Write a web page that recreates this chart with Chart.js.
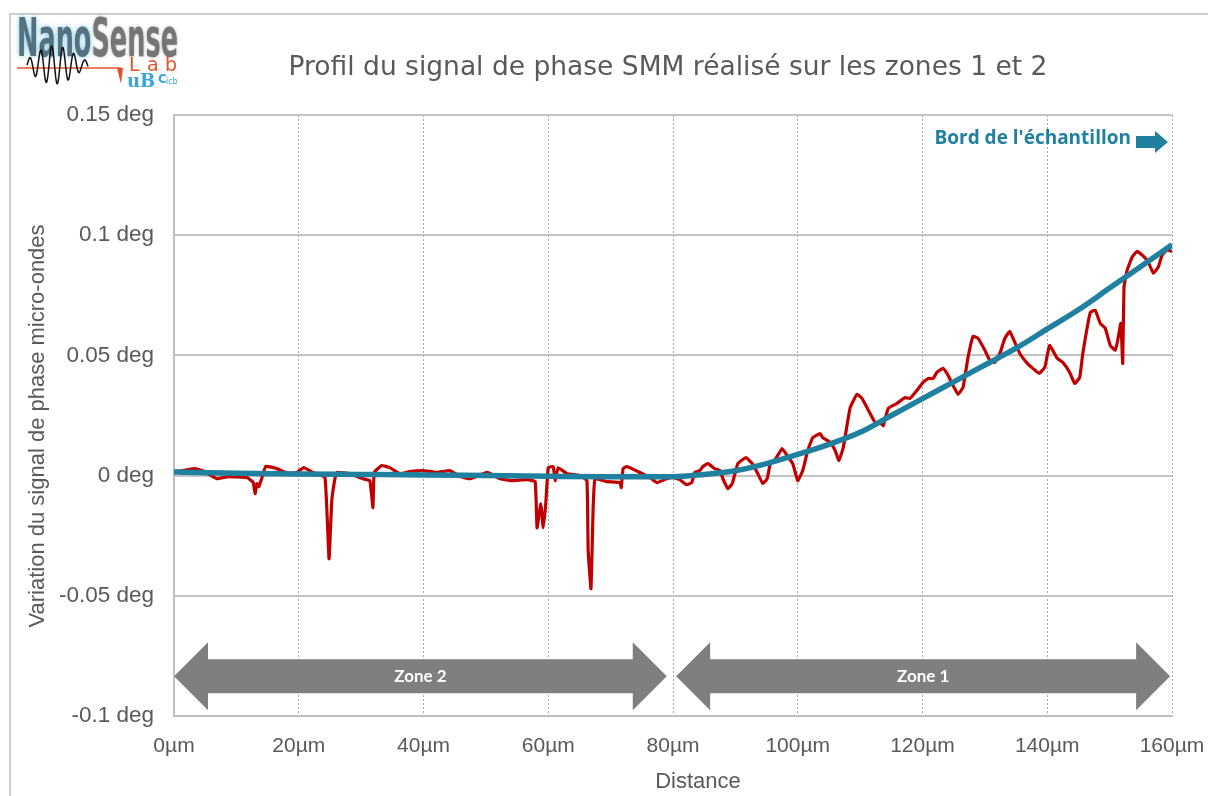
<!DOCTYPE html>
<html lang="fr">
<head>
<meta charset="utf-8">
<title>Profil du signal de phase SMM</title>
<script src="https://cdn.jsdelivr.net/npm/chart.js@4.4.1/dist/chart.umd.min.js"></script>
<style>
  html, body { margin: 0; padding: 0; background: #fff; overflow: hidden; }
  #frame { position: absolute; left: 9px; top: 13px; width: 1400px; height: 1000px; border: 2px solid #cdcdcd; }
  #wrap { position: absolute; left: 0; top: 0; width: 1208px; height: 796px; }
</style>
</head>
<body>
<div id="frame"></div>
<div id="wrap"><canvas id="profil"></canvas></div>
<script>
const chartTitle = 'Profil du signal de phase SMM réalisé sur les zones 1 et 2';
const edgeLabel = "Bord de l'échantillon";
const xTitle = 'Distance';
const yTitle = 'Variation du signal de phase micro-ondes';

// SMM phase profile (distance in µm, phase in deg)
const distance = [
  0, 1.4, 3.4, 4.5, 6.9, 8.7, 11.7, 12.7, 13.0, 13.3, 13.6, 14.1, 14.7, 16.5, 17.5, 18.6, 19.7,
  20.8, 22.3, 24.2, 24.85, 25.3, 25.8, 26.1, 28.2, 30.3, 31.4, 31.9, 32.1, 33.3, 34.6, 36.2, 37.8,
  39.9, 42.2, 44.2, 45.9, 47.5, 50.2, 52.3, 54.2, 56.6, 57.9, 58.2, 58.8, 59.2, 59.6, 60.0, 60.8,
  61.1, 61.6, 63.0, 65.1, 66.2, 66.4, 66.85, 67.2, 67.5, 69.4, 71.5, 71.7, 72.0, 72.6, 74.7, 76.3,
  77.4, 79.0, 80.0, 81.1, 82.2, 83.0, 83.5, 84.3, 84.8, 85.6, 86.7, 87.5, 88.0, 88.8, 89.5, 90.4,
  91.7, 92.7, 93.5, 94.4, 95.1, 95.6, 96.4, 97.5, 98.3, 99.2, 100.0, 100.8, 101.6, 102.4, 103.6,
  104.0, 105.2, 106.0, 106.6, 107.3, 108.4, 109.5, 110.3, 111.6, 112.4, 113.2, 113.7, 114.5, 115.9,
  117.2, 118.0, 119.1, 120.1, 120.9, 121.7, 122.3, 123.3, 124.1, 124.9, 125.7, 126.5, 127.3, 128.1,
  128.9, 130.0, 130.8, 131.6, 132.4, 133.2, 134.0, 134.8, 135.6, 136.8, 137.7, 138.7, 139.6, 140.0,
  140.4, 141.6, 142.5, 143.6, 144.4, 145.2, 145.7, 146.9, 147.7, 148.5, 149.3, 150.1, 150.9, 151.3,
  151.8, 152.1, 152.3, 152.8, 153.6, 154.4, 155.4, 156.2, 157.0, 157.8, 158.4, 159.2, 160.0
];
const phase = [
  0.0017, 0.0021, 0.0029, 0.0021, -0.0013, -0.0004, -0.0008, -0.0029, -0.0075, -0.0033, -0.0046, -0.0008, 0.0038, 0.0029, 0.0017, 0.0008, 0.0013,
  0.0033, 0.0013, -0.0008, -0.0346, -0.0104, -0.0013, 0.0013, 0.0008, -0.0013, -0.0021, -0.0133, 0.0013, 0.0042, 0.0033, 0.0008, 0.0017,
  0.0021, 0.0013, 0.0021, -0.0004, -0.0013, 0.0013, -0.0013, -0.0021, -0.0017, -0.0025, -0.0217, -0.0117, -0.0217, -0.0117, 0.0033, 0.0038,
  -0.0021, 0.0033, 0.0008, 0.0, -0.0021, -0.0313, -0.047, -0.0133, -0.0013, -0.0025, -0.0029, -0.005, 0.0029, 0.0038, 0.0013, -0.0008,
  -0.0029, -0.0013, -0.0008, -0.0017, -0.0038, -0.0029, 0.0013, 0.0021, 0.0038, 0.005, 0.0029, 0.0021, -0.0013, -0.0054, -0.0033, 0.005,
  0.0075, 0.005, 0.0013, -0.0033, -0.0013, 0.005, 0.0067, 0.0113, 0.0083, 0.005, -0.0021, 0.0021, 0.0104, 0.0158, 0.0175,
  0.0158, 0.0138, 0.0104, 0.0063, 0.0117, 0.0283, 0.0338, 0.0321, 0.0258, 0.0221, 0.0221, 0.0208, 0.0279, 0.03,
  0.0325, 0.0321, 0.0354, 0.0388, 0.0404, 0.0404, 0.0429, 0.0446, 0.0417, 0.0375, 0.0338, 0.0367, 0.0492, 0.0579,
  0.0571, 0.0521, 0.0479, 0.0471, 0.0508, 0.0571, 0.06, 0.0554, 0.0508, 0.0467, 0.0446, 0.0425, 0.045, 0.05,
  0.0542, 0.0488, 0.0471, 0.0429, 0.0383, 0.0408, 0.0508, 0.0679, 0.0688, 0.0633, 0.0613, 0.0542, 0.0521, 0.0563,
  0.0633, 0.0467, 0.0783, 0.0854, 0.0908, 0.0933, 0.0913, 0.0888, 0.0842, 0.0867, 0.0917, 0.0938, 0.0933
];

// smooth trend curve
const fitDistance = [0, 10, 20, 30, 40, 50, 60, 70, 80, 85, 90, 95, 100, 105, 110, 115, 120, 125, 130, 135, 140, 145, 150, 155, 160];
const fitPhase = [0.0015, 0.001, 0.0007, 0.0005, 0.0003, 0.0, -0.0003, -0.0005, -0.0005, 0.0005, 0.002, 0.005, 0.0088, 0.013, 0.018, 0.025, 0.032, 0.039, 0.046, 0.053, 0.061, 0.069, 0.078, 0.087, 0.096];

// zone bands along the bottom of the plot
const zoneLabels = ['Zone 2', 'Zone 1'];
const zoneFrom = [0, 80.5];
const zoneTo = [79, 159.7];
const zoneLevel = -0.0835;

const xTicks = [0, 20, 40, 60, 80, 100, 120, 140, 160];

const signalColor = '#c00000';
const trendColor = '#1f80a0';
const textColor = '#595959';
const axisFont = '"Liberation Sans", Arial, sans-serif';

function arrowPath(ctx, x1, x2, yc, shaft, head, len, both) {
  ctx.beginPath();
  if (both) {
    ctx.moveTo(x1, yc);
    ctx.lineTo(x1 + len, yc - head);
    ctx.lineTo(x1 + len, yc - shaft);
  } else {
    ctx.moveTo(x1, yc - shaft);
  }
  ctx.lineTo(x2 - len, yc - shaft);
  ctx.lineTo(x2 - len, yc - head);
  ctx.lineTo(x2, yc);
  ctx.lineTo(x2 - len, yc + head);
  ctx.lineTo(x2 - len, yc + shaft);
  if (both) {
    ctx.lineTo(x1 + len, yc + shaft);
    ctx.lineTo(x1 + len, yc + head);
  } else {
    ctx.lineTo(x1, yc + shaft);
  }
  ctx.closePath();
  ctx.fill();
}

function drawLogo(ctx) {
  ctx.save();
  // NanoSense lettering, condensed to the logo width
  ctx.font = 'bold 53px "DejaVu Sans Condensed", "DejaVu Sans", sans-serif';
  ctx.textBaseline = 'alphabetic';
  const wNano = ctx.measureText('Nano').width;
  const wAll = ctx.measureText('NanoSense').width;
  const sx = 161 / wAll;
  ctx.translate(17, 56);
  ctx.scale(sx, 1);
  ctx.shadowColor = 'rgba(80,180,220,0.8)';
  ctx.shadowBlur = 5;
  ctx.fillStyle = '#56717e';
  ctx.fillText('Nano', 0, 0);
  ctx.shadowColor = 'rgba(120,120,120,0.6)';
  ctx.shadowBlur = 3;
  ctx.fillStyle = '#767676';
  ctx.fillText('Sense', wNano, 0);
  ctx.restore();

  ctx.save();
  // red base line with its marker
  ctx.strokeStyle = '#e8502a';
  ctx.lineWidth = 1.5;
  ctx.beginPath();
  ctx.moveTo(17, 68);
  ctx.lineTo(121, 68);
  ctx.stroke();
  ctx.fillStyle = '#e8502a';
  ctx.beginPath();
  ctx.moveTo(117, 68);
  ctx.lineTo(123, 68);
  ctx.lineTo(121, 84);
  ctx.closePath();
  ctx.fill();

  // oscillation glyph
  ctx.strokeStyle = '#111';
  ctx.lineWidth = 1.5;
  ctx.beginPath();
  for (let px = 27; px <= 88; px += 0.5) {
    const t = (px - 27) / 61;
    const amp = 5 + 14 * Math.sin(Math.PI * Math.min(1, t * 1.1));
    const yy = 65 + amp * Math.sin((px - 27) / 11 * 2 * Math.PI + Math.PI);
    if (px === 27) ctx.moveTo(px, yy); else ctx.lineTo(px, yy);
  }
  ctx.stroke();

  // "Lab" and the university marks
  ctx.fillStyle = '#e8502a';
  ctx.font = '19px "DejaVu Sans", sans-serif';
  ctx.textBaseline = 'alphabetic';
  ['L', 'a', 'b'].forEach((c, i) => ctx.fillText(c, 129 + i * 18, 71));
  ctx.fillStyle = '#38a6d6';
  ctx.font = 'bold 18px "DejaVu Serif", serif';
  ctx.fillText('uB', 127, 87);
  ctx.font = 'bold 12px "DejaVu Sans", sans-serif';
  ctx.fillText('C', 158, 83);
  ctx.font = '8px "DejaVu Sans", sans-serif';
  ctx.fillText('icb', 166, 84);
  ctx.restore();
}

const annotations = {
  id: 'annotations',
  afterDatasetsDraw(chart) {
    const { ctx, scales: { x, y } } = chart;
    ctx.save();

    // zone arrows
    const yc = y.getPixelForValue(zoneLevel);
    zoneLabels.forEach((label, i) => {
      const x1 = x.getPixelForValue(zoneFrom[i]);
      const x2 = x.getPixelForValue(zoneTo[i]);
      ctx.fillStyle = '#7f7f7f';
      arrowPath(ctx, x1, x2, yc, 17, 34, 34, true);
      ctx.fillStyle = '#ffffff';
      ctx.font = 'bold 17px Lato, "Open Sans", sans-serif';
      ctx.textAlign = 'center';
      ctx.textBaseline = 'middle';
      ctx.fillText(label, (x1 + x2) / 2, yc);
    });

    // sample edge marker
    ctx.fillStyle = trendColor;
    ctx.font = 'bold 19px "Open Sans", Lato, sans-serif';
    ctx.textAlign = 'right';
    ctx.textBaseline = 'middle';
    ctx.fillText(edgeLabel, 1131, 139);
    arrowPath(ctx, 1136, 1168, 142, 6, 11, 13, false);

    // chart title
    ctx.fillStyle = textColor;
    ctx.textAlign = 'center';
    ctx.font = '26.5px "DejaVu Sans", sans-serif';
    ctx.fillText(chartTitle, 668, 68);

    // axis titles
    ctx.font = '22px ' + axisFont;
    ctx.fillText(xTitle, 698, 782);
    ctx.translate(38, 426);
    ctx.rotate(-Math.PI / 2);
    ctx.fillText(yTitle, 0, 0);
    ctx.restore();

    drawLogo(ctx);
  }
};

const ctx = document.getElementById('profil').getContext('2d');
const profilChart = new Chart(ctx, {
  type: 'scatter',
  data: {
    datasets: [{
      label: 'Tendance',
      data: fitDistance.map((d, i) => ({ x: d, y: fitPhase[i] })),
      showLine: true,
      borderColor: trendColor,
      borderWidth: 5.5,
      pointRadius: 0,
      cubicInterpolationMode: 'monotone',
      order: 0,
    }, {
      label: 'Signal de phase',
      data: distance.map((d, i) => ({ x: d, y: phase[i] })),
      showLine: true,
      borderColor: signalColor,
      borderWidth: 3.2,
      pointRadius: 0,
      tension: 0.1,
      borderJoinStyle: 'round',
      order: 1,
    }],
  },
  options: {
    responsive: true,
    maintainAspectRatio: false,
    animation: false,
    layout: { padding: { top: 115, right: 36, left: 0, bottom: 0 } },
    plugins: { legend: { display: false }, tooltip: { enabled: false } },
    scales: {
      x: {
        type: 'linear',
        min: 0,
        max: 160,
        afterBuildTicks: (scale) => { scale.ticks = xTicks.map(v => ({ value: v })); },
        afterFit: (scale) => { scale.height = 80; scale.paddingLeft = 0; scale.paddingRight = 0; },
        grid: { color: '#a6a6a6', lineWidth: 1, drawTicks: false },
        border: { color: '#bfbfbf', width: 2, dash: [2, 2] },
        ticks: {
          padding: 18,
          color: textColor,
          font: { size: 21, family: axisFont },
          maxRotation: 0,
          callback: (v) => v + 'µm',
        },
      },
      y: {
        min: -0.1,
        max: 0.15,
        afterFit: (scale) => { scale.width = 174; scale.paddingTop = 0; scale.paddingBottom = 0; },
        grid: { color: '#c4c4c4', lineWidth: 2, drawTicks: false },
        border: { color: '#bfbfbf', width: 2 },
        ticks: {
          stepSize: 0.05,
          padding: 20,
          color: textColor,
          font: { size: 22.5, family: axisFont },
          callback: (v) => (Math.round(v * 100) / 100) + ' deg',
        },
      },
    },
  },
  plugins: [annotations],
});
</script>
</body>
</html>
